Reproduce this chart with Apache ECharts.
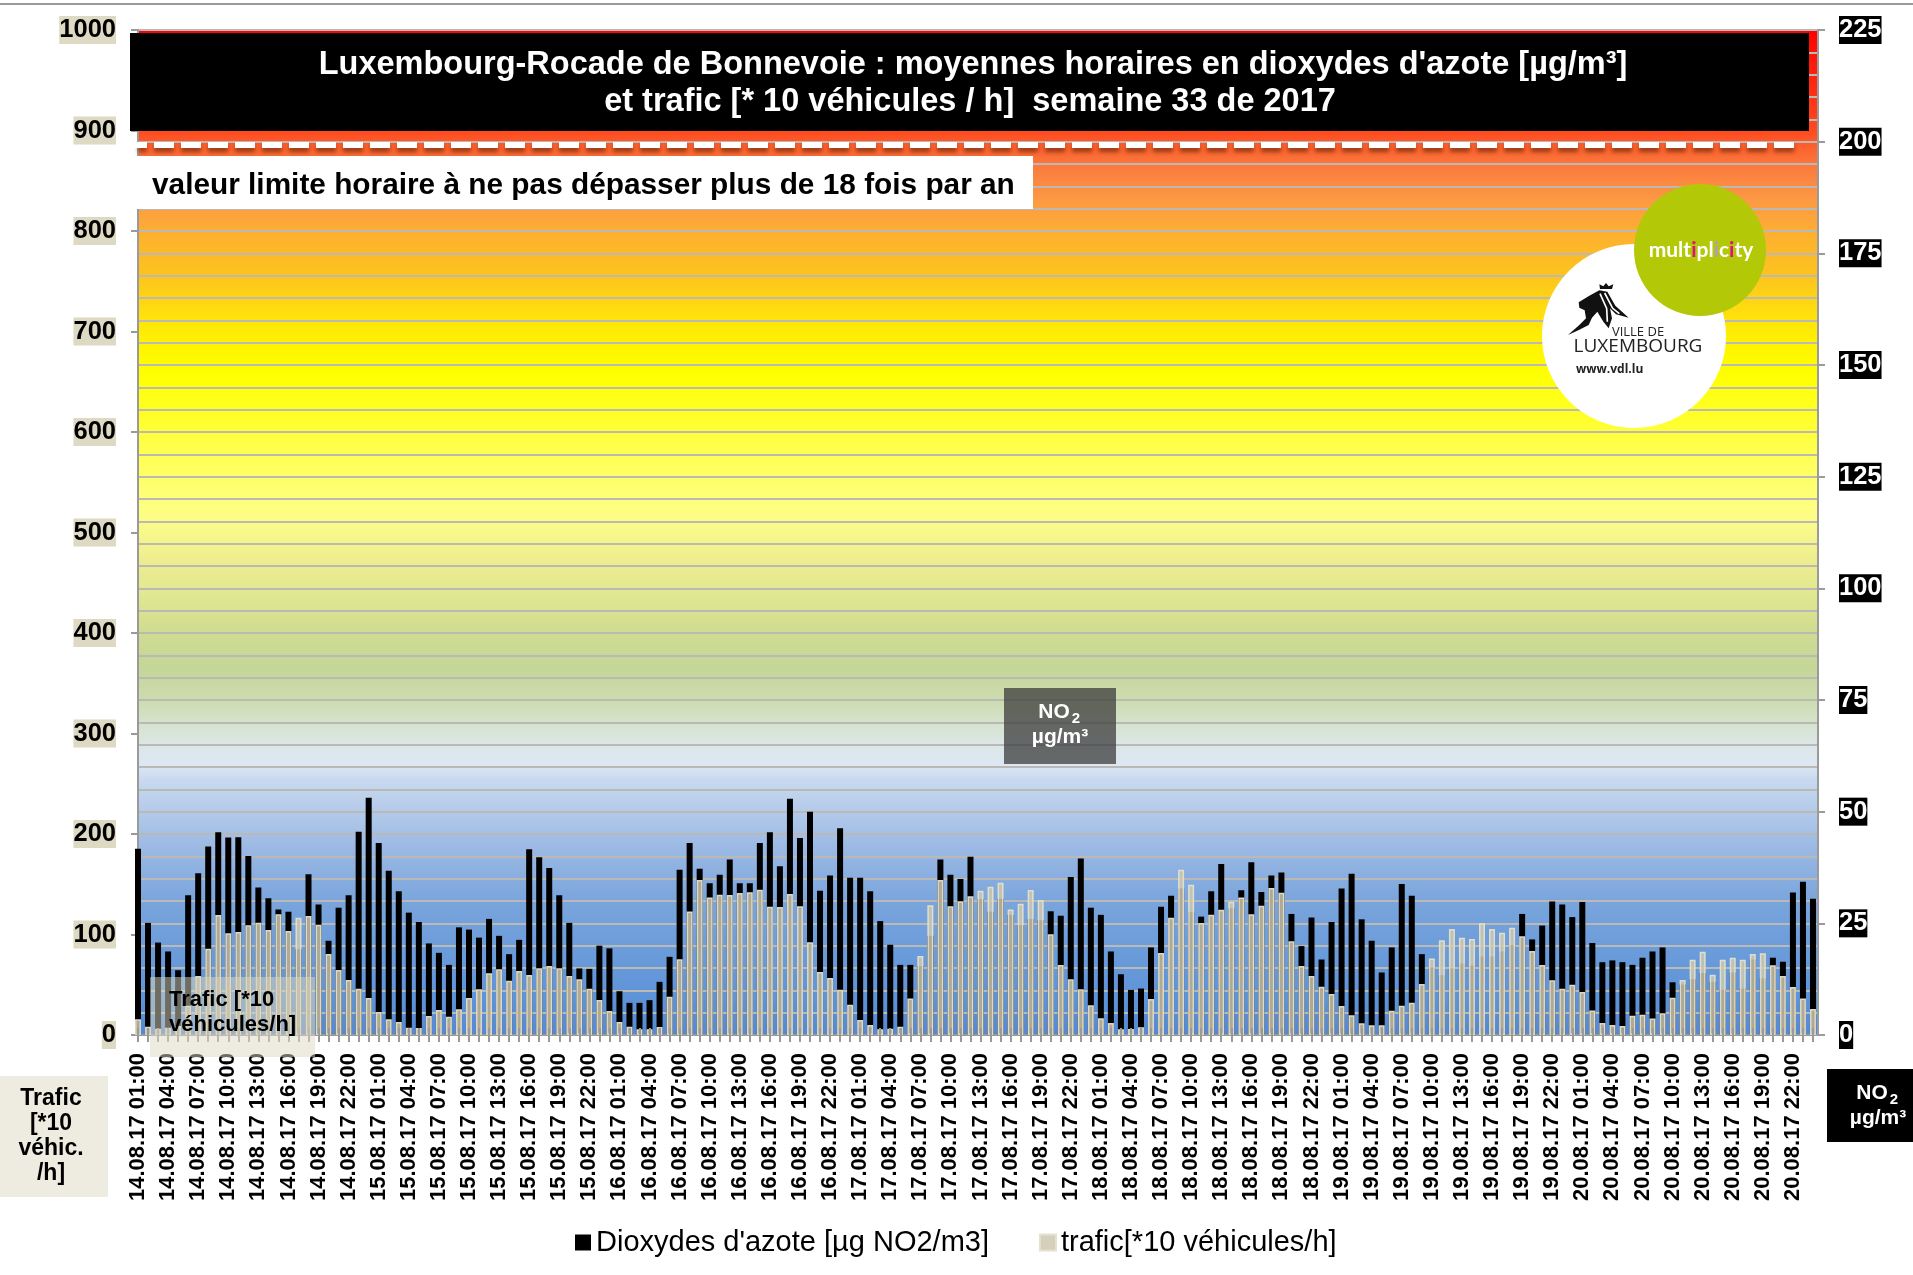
<!DOCTYPE html>
<html>
<head>
<meta charset="utf-8">
<title>Rocade de Bonnevoie</title>
<script src="https://cdn.jsdelivr.net/npm/echarts@6/dist/echarts.min.js"></script>
<style>
html, body { margin: 0; padding: 0; background: #fff; }
#main { width: 1913px; height: 1275px; }
</style>
</head>
<body>
<div id="main"></div>
<script>
var days = ['14.08.17', '15.08.17', '16.08.17', '17.08.17', '18.08.17', '19.08.17', '20.08.17'];
var hours = ['01:00', '02:00', '03:00', '04:00', '05:00', '06:00', '07:00', '08:00', '09:00', '10:00', '11:00', '12:00',
    '13:00', '14:00', '15:00', '16:00', '17:00', '18:00', '19:00', '20:00', '21:00', '22:00', '23:00', '00:00'];

// NO2 [µg/m3], axe de droite
var no2 = [
    41.7, 25.1, 20.7, 18.7, 14.5, 31.3, 36.2, 42.2, 45.4, 44.2, 44.3, 40.1, 33.0, 30.6, 28.1, 27.6, 19.2, 36.0, 29.2, 21.1, 28.5, 31.3, 45.5, 53.1,
    43.0, 36.8, 32.2, 27.4, 25.3, 20.5, 18.4, 15.7, 24.1, 23.6, 21.8, 26.0, 22.2, 18.1, 21.3, 41.6, 39.8, 37.4, 31.3, 25.1, 14.9, 14.8, 20.0, 19.4,
    9.8, 7.2, 7.2, 7.8, 11.9, 17.5, 37.0, 43.0, 37.2, 34.0, 35.9, 39.3, 34.0, 34.0, 43.0, 45.4, 37.8, 52.9, 44.1, 50.0, 32.3, 35.7, 46.3, 35.2,
    35.2, 32.2, 25.5, 20.2, 15.7, 15.7, 15.4, 22.2, 39.3, 35.9, 34.9, 39.9, 30.4, 27.6, 30.5, 26.9, 24.6, 26.0, 25.7, 27.7, 26.7, 35.4, 39.5, 28.5,
    26.9, 18.7, 13.6, 10.1, 10.4, 19.6, 28.7, 31.2, 32.8, 27.5, 26.5, 32.2, 38.3, 28.4, 32.4, 38.7, 32.0, 35.7, 36.4, 27.1, 19.9, 26.3, 16.9, 25.3,
    32.8, 36.1, 25.9, 21.1, 14.0, 19.6, 33.8, 31.2, 18.1, 15.1, 13.4, 14.9, 16.0, 15.6, 17.6, 17.6, 18.7, 20.1, 27.1, 21.4, 24.5, 29.9, 29.2, 26.4,
    29.8, 20.6, 16.3, 16.7, 16.3, 15.7, 17.3, 18.7, 19.6, 11.8, 11.3, 12.5, 13.9, 11.9, 10.1, 14.0, 10.4, 16.9, 12.7, 17.3, 16.4, 31.9, 34.3, 30.5
];
// trafic [*10 véhicules/h], axe de gauche
var trafic = [
    15.6, 8.3, 6.3, 7.3, 9.0, 29.0, 58.7, 85.9, 119.4, 101.2, 102.5, 109.1, 111.8, 104.5, 120.1, 103.5, 116.7, 118.4, 109.8, 80.6, 64.7, 54.7, 46.1, 36.8,
    22.9, 15.6, 12.9, 7.3, 7.0, 18.9, 24.9, 18.2, 25.5, 36.8, 45.4, 61.4, 65.3, 54.1, 63.7, 59.7, 66.3, 68.7, 66.3, 58.7, 55.4, 46.1, 34.8, 23.9,
    12.9, 8.3, 5.6, 5.6, 8.0, 38.1, 75.3, 123.0, 154.2, 136.7, 139.6, 139.3, 141.3, 142.0, 144.6, 127.7, 127.4, 140.3, 128.0, 92.2, 62.7, 56.7, 45.1, 30.2,
    14.9, 10.0, 5.6, 6.3, 8.3, 36.2, 78.6, 129.0, 154.2, 128.0, 133.0, 138.0, 143.6, 147.6, 151.6, 125.0, 130.7, 144.3, 134.3, 100.2, 69.7, 55.4, 45.4, 29.5,
    16.6, 11.9, 5.6, 6.0, 7.6, 35.8, 81.6, 116.7, 164.5, 149.6, 111.4, 119.7, 124.7, 132.7, 136.7, 120.1, 128.7, 146.3, 141.6, 93.2, 68.7, 58.7, 48.1, 40.8,
    28.9, 19.6, 11.6, 9.6, 9.6, 24.2, 29.2, 32.2, 50.7, 76.0, 94.2, 105.5, 96.8, 95.5, 111.1, 105.5, 101.8, 106.8, 98.2, 83.6, 69.7, 54.4, 46.1, 50.1,
    42.8, 24.5, 11.9, 10.0, 9.0, 19.2, 20.2, 16.3, 21.6, 37.1, 54.7, 75.0, 82.9, 60.0, 75.0, 76.9, 75.0, 80.6, 81.3, 69.3, 58.7, 47.8, 36.2, 25.9
];
var limitLine = 199.3;
var font = '"Liberation Sans", Arial, sans-serif';

var categories = [];
days.forEach(function (d) {
    hours.forEach(function (h) {
        categories.push(d + ' ' + h);
    });
});

function pairs(values) {
    return values.map(function (v, i) {
        return [i, v];
    });
}

function label(text, x, y, size, fill, extra) {
    var style = {
        text: text, x: x, y: y, fill: fill,
        font: 'bold ' + size + 'px ' + font,
        textAlign: 'center', textVerticalAlign: 'middle'
    };
    for (var k in extra) style[k] = extra[k];
    return { type: 'text', z: 110, style: style };
}

function box(x, y, w, h, fill) {
    return { type: 'rect', z: 100, shape: { x: x, y: y, width: w, height: h }, style: { fill: fill } };
}

// lion du logo, points en 1/3 de pixel depuis (1560, 275)
var lion = [[56, 82], [88, 62], [118, 46], [142, 50], [166, 92], [206, 128], [168, 118], [150, 100], [156, 130], [146, 160],
    [130, 140], [112, 110], [96, 128], [86, 150], [58, 164], [24, 180], [58, 150], [78, 130], [74, 106], [58, 98]];
var crown = [[120, 42], [118, 28], [130, 34], [138, 24], [146, 34], [160, 28], [156, 42]];

var graphics = [
    box(0, 3, 1913, 2, '#9a9a9a'),
    box(130, 33, 1679, 98, '#000'),
    label('Luxembourg-Rocade de Bonnevoie : moyennes horaires en dioxydes d\'azote [µg/m³]', 973, 65, 32.5, '#fff'),
    label('et trafic [* 10 véhicules / h]  semaine 33 de 2017', 970, 102, 32.5, '#fff'),
    box(127, 142, 11, 6, '#fff'),
    box(130, 156, 903, 53, '#fff'),
    label('valeur limite horaire à ne pas dépasser plus de 18 fois par an', 152, 186, 29.8, '#000', { textAlign: 'left' }),
    box(1004, 688, 112, 76, 'rgba(60,60,60,0.75)'),
    label('NO', 1054, 712, 21, '#fff'),
    label('2', 1076, 719, 15, '#fff'),
    label('µg/m³', 1060, 737, 21, '#fff'),
    box(150, 977, 165, 80, 'rgba(221,217,195,0.5)'),
    label('Trafic [*10', 169, 1000, 22, '#000', { textAlign: 'left' }),
    label('véhicules/h]', 169, 1025, 22, '#000', { textAlign: 'left' }),
    box(0, 1076, 108, 121, '#eeebe0'),
    label('Trafic', 51, 1099, 23, '#000'),
    label('[*10', 51, 1124, 23, '#000'),
    label('véhic.', 51, 1149, 23, '#000'),
    label('/h]', 51, 1174, 23, '#000'),
    box(1827, 1069, 86, 73, '#000'),
    label('NO', 1872, 1093, 21, '#fff'),
    label('2', 1894, 1100, 15, '#fff'),
    label('µg/m³', 1878, 1118, 21, '#fff'),
    { type: 'circle', z: 100, shape: { cx: 1634, cy: 336, r: 92 }, style: { fill: '#fff' } },
    { type: 'circle', z: 101, shape: { cx: 1700, cy: 250, r: 66 }, style: { fill: '#b3c807' } },
    {
        type: 'text', z: 110,
        style: {
            text: 'mult{a|i}pl{b|i}c{a|i}ty', x: 1701, y: 250, fill: '#fff',
            font: 'bold 21px Lato, sans-serif', textAlign: 'center', textVerticalAlign: 'middle',
            rich: {
                a: { fill: '#e0107a', fontSize: 21, fontWeight: 'bold', fontFamily: 'Lato' },
                b: { fill: '#b59ac8', fontSize: 21, fontWeight: 'bold', fontFamily: 'Lato' }
            }
        }
    },
    { type: 'polygon', z: 110, x: 1560, y: 275, scaleX: 1 / 3, scaleY: 1 / 3, shape: { points: lion }, style: { fill: '#111' } },
    { type: 'polygon', z: 110, x: 1560, y: 275, scaleX: 1 / 3, scaleY: 1 / 3, shape: { points: crown }, style: { fill: '#111' } },
    { type: 'polyline', z: 111, x: 1560, y: 275, scaleX: 1 / 3, scaleY: 1 / 3, shape: { points: [[120, 56], [140, 100], [142, 140]] }, style: { stroke: '#fff', lineWidth: 5, fill: null } },
    { type: 'polyline', z: 111, x: 1560, y: 275, scaleX: 1 / 3, scaleY: 1 / 3, shape: { points: [[134, 54], [158, 100], [178, 116]] }, style: { stroke: '#fff', lineWidth: 5, fill: null } },
    { type: 'text', z: 110, style: { text: 'VILLE DE', x: 1638, y: 332, fill: '#222', font: '13px "Open Sans", sans-serif', textAlign: 'center', textVerticalAlign: 'middle' } },
    { type: 'text', z: 110, style: { text: 'LUXEMBOURG', x: 1638, y: 347, fill: '#222', font: '19px "Open Sans", sans-serif', textAlign: 'center', textVerticalAlign: 'middle' } },
    { type: 'text', z: 110, style: { text: 'www.vdl.lu', x: 1576, y: 370, fill: '#222', font: 'bold 12px "Open Sans", sans-serif', textAlign: 'left', textVerticalAlign: 'middle' } }
];

var plotGradient = {
    type: 'linear', x: 0, y: 0, x2: 0, y2: 1,
    colorStops: [
        { offset: 0, color: '#ff0000' }, { offset: 0.1005, color: '#ff4a20' }, { offset: 0.135, color: '#fb7a3e' },
        { offset: 0.17, color: '#fc9a44' }, { offset: 0.206, color: '#fdb22e' }, { offset: 0.242, color: '#fdc21f' },
        { offset: 0.278, color: '#ffdc10' }, { offset: 0.312, color: '#fff300' }, { offset: 0.341, color: '#ffff00' },
        { offset: 0.384, color: '#ffff28' }, { offset: 0.419, color: '#ffff50' }, { offset: 0.473, color: '#ffff80' },
        { offset: 0.491, color: '#fbfb8a' }, { offset: 0.526, color: '#eeee90' }, { offset: 0.561, color: '#e0e890' },
        { offset: 0.597, color: '#d0dc90' }, { offset: 0.633, color: '#c5d698' }, { offset: 0.667, color: '#ccdcb0' },
        { offset: 0.687, color: '#d5e2c8' }, { offset: 0.711, color: '#dce6e8' }, { offset: 0.731, color: '#dde7f3' },
        { offset: 0.746, color: '#c8d9ef' }, { offset: 0.816, color: '#9ab8e3' }, { offset: 0.866, color: '#7aa5dc' },
        { offset: 0.965, color: '#5d93d8' }, { offset: 1, color: '#5588d4' }
    ]
};

var axisGrey = '#9a9a9a';
var gridGrey = '#bbb9b6';

var option = {
    animation: false,
    backgroundColor: '#fff',
    grid: {
        show: true, left: 138, top: 30, width: 1680, height: 1005,
        backgroundColor: plotGradient, borderWidth: 0
    },
    legend: {
        left: 570, top: 1223, itemWidth: 16, itemHeight: 16, itemGap: 50, icon: 'rect',
        textStyle: { fontFamily: 'Liberation Sans', fontSize: 29, color: '#000' },
        data: ['Dioxydes d\'azote [µg NO2/m3]', 'trafic[*10 véhicules/h]']
    },
    xAxis: [{
        type: 'value', min: 0, max: 167.5, interval: 1,
        splitLine: { show: false },
        axisLine: { onZero: false, lineStyle: { color: axisGrey, width: 2 } },
        axisTick: { length: 7, lineStyle: { color: axisGrey, width: 2 } },
        axisLabel: {
            rotate: 90, margin: 18, color: '#000', fontFamily: 'Liberation Sans', fontWeight: 'bold', fontSize: 22,
            showMaxLabel: false,
            formatter: function (v) {
                return v % 3 === 0 && categories[v] ? categories[v] : '';
            }
        }
    }, {
        type: 'value', min: 0, max: 167.5, interval: 1, position: 'bottom', z: 5,
        splitLine: { show: false },
        axisLine: { show: false, onZero: false },
        axisTick: { inside: true, length: 7, lineStyle: { color: axisGrey, width: 2 } },
        axisLabel: { show: false }
    }],
    yAxis: [{
        type: 'value', min: 0, max: 1000, interval: 100, position: 'left',
        splitLine: { show: false },
        axisLine: { show: true, onZero: false, lineStyle: { color: axisGrey, width: 2 } },
        axisTick: { show: true, length: 7, lineStyle: { color: axisGrey, width: 2 } },
        axisLabel: {
            margin: 22, color: '#000', fontFamily: 'Liberation Sans', fontWeight: 'bold', fontSize: 25.5,
            lineHeight: 26, padding: [2, 0, 0, 0], backgroundColor: '#ddd9c3',
            formatter: function (v) { return String(v); }
        }
    }, {
        type: 'value', min: 0, max: 225, interval: 25, position: 'right',
        minorTick: { show: false, splitNumber: 5 },
        splitLine: { show: true, lineStyle: { color: gridGrey, width: 2 } },
        minorSplitLine: { show: true, lineStyle: { color: gridGrey, width: 2 } },
        axisLine: { show: true, onZero: false, lineStyle: { color: axisGrey, width: 2 } },
        axisTick: { show: true, length: 7, lineStyle: { color: axisGrey, width: 2 } },
        axisLabel: {
            margin: 21, color: '#fff', fontFamily: 'Liberation Sans', fontWeight: 'bold', fontSize: 25.5,
            lineHeight: 26, padding: [2, 0, 0, 0], backgroundColor: '#000'
        }
    }],
    series: [{
        name: 'Dioxydes d\'azote [µg NO2/m3]',
        type: 'bar', xAxisIndex: 0, yAxisIndex: 1, barWidth: 6, barGap: '-100%',
        itemStyle: { color: '#000' },
        data: pairs(no2),
        markLine: {
            silent: true, symbol: 'none', z: 20,
            label: { show: false },
            lineStyle: {
                color: '#fff', width: 6, type: [20, 7], dashOffset: 11, opacity: 1,
                shadowColor: 'rgba(80,30,0,0.6)', shadowBlur: 4, shadowOffsetY: 4
            },
            data: [[{ coord: [0, limitLine] }, { coord: [165.7, limitLine] }]]
        }
    }, {
        name: 'trafic[*10 véhicules/h]',
        type: 'bar', xAxisIndex: 0, yAxisIndex: 0, barWidth: 6, barGap: '-100%',
        itemStyle: { color: 'rgba(205,200,176,0.85)', borderColor: 'rgba(228,224,204,0.95)', borderWidth: 1.5 },
        data: pairs(trafic)
    }],
    graphic: { elements: graphics }
};

var chart = echarts.init(document.getElementById('main'));
chart.setOption(option);
</script>
</body>
</html>
